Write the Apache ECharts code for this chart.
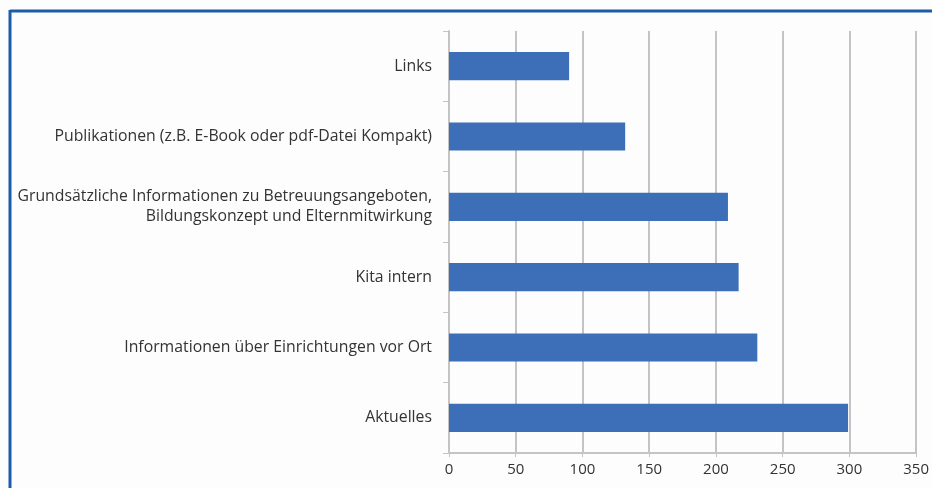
<!DOCTYPE html>
<html>
<head>
<meta charset="utf-8">
<script src="https://cdn.jsdelivr.net/npm/echarts@6/dist/echarts.min.js"></script>
<style>
html,body{margin:0;padding:0;background:#fdfdfd;}
#chart{width:932px;height:488px;}
</style>
</head>
<body>
<div id="chart"></div>
<script>
var categories = [
  "Aktuelles",
  "Informationen über Einrichtungen vor Ort",
  "Kita intern",
  "Grundsätzliche Informationen zu Betreuungsangeboten,\nBildungskonzept und Elternmitwirkung",
  "Publikationen (z.B. E-Book oder pdf-Datei Kompakt)",
  "Links"
];
var values = [299, 231, 217, 209, 132, 90];
var xTicks = [0, 50, 100, 150, 200, 250, 300, 350];

var chart = echarts.init(document.getElementById('chart'), null, {renderer: 'canvas'});
chart.setOption({
  backgroundColor: '#fdfdfd',
  animation: false,
  textStyle: {fontFamily: 'Open Sans'},
  grid: {left: 449, right: 14, top: 31, bottom: 35, containLabel: false},
  graphic: [
    {type: 'line', shape: {x1: 10, y1: 11, x2: 932, y2: 11}, style: {stroke: '#1d5cab', lineWidth: 3}, z: 10},
    {type: 'line', shape: {x1: 10, y1: 10, x2: 10, y2: 488}, style: {stroke: '#1d5cab', lineWidth: 3}, z: 10}
  ],
  xAxis: {
    type: 'value',
    min: xTicks[0],
    max: xTicks[xTicks.length - 1],
    interval: 50,
    axisLine: {show: true, lineStyle: {color: '#c4c4c4', width: 2}},
    axisTick: {show: true, length: 4, lineStyle: {color: '#c4c4c4'}},
    splitLine: {show: true, lineStyle: {color: '#c4c4c4', width: 2}},
    axisLabel: {color: '#333333', fontSize: 15, margin: 9, fontFamily: 'Open Sans'}
  },
  yAxis: {
    type: 'category',
    data: categories,
    axisLine: {show: true, lineStyle: {color: '#c4c4c4', width: 2}},
    axisTick: {show: true, length: 6, alignWithLabel: false, lineStyle: {color: '#c4c4c4'}},
    axisLabel: {color: '#333333', fontSize: 15.8, margin: 17, lineHeight: 20, align: 'right', fontFamily: 'Open Sans'}
  },
  series: [{
    type: 'bar',
    data: values,
    barCategoryGap: '60%',
    itemStyle: {color: '#3c6fb7'}
  }]
});
</script>
</body>
</html>
